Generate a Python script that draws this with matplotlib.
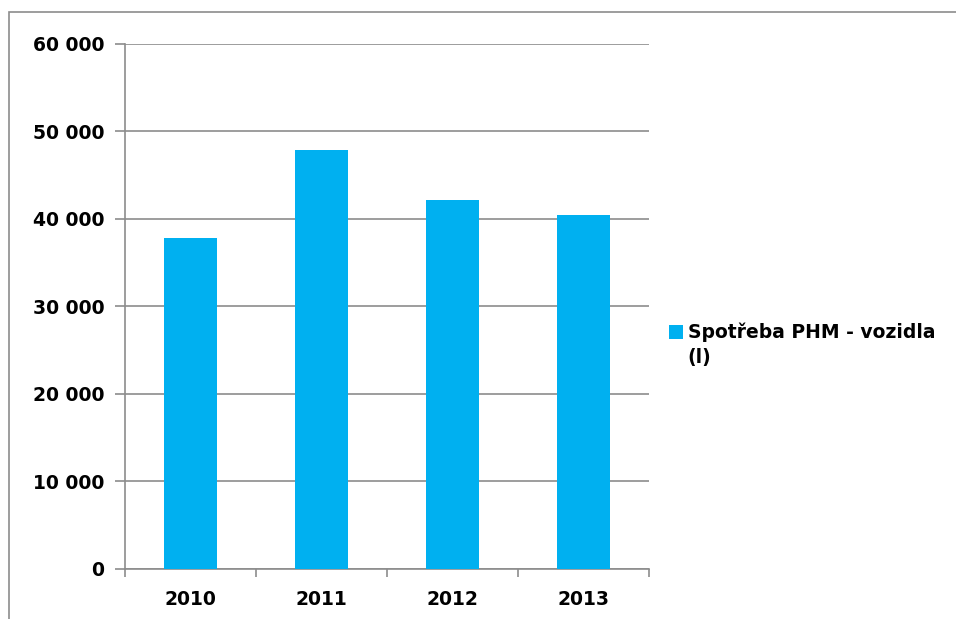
import numpy as np
import matplotlib
matplotlib.use('Agg')
import matplotlib.pyplot as plt
import matplotlib.patches as patch
from matplotlib.ticker import FuncFormatter, FixedLocator

years = ['2010', '2011', '2012', '2013']
spotreba = [37750, 47800, 42150, 40450]
series_name = 'Spotřeba PHM - vozidla'
series_unit = '(l)'

bar_col = '#00B0F0'
grid_col = '#8C8C8C'

plt.rcParams['font.family'] = ['DejaVu Sans']
plt.rcParams['font.weight'] = 'bold'

fig = plt.figure(figsize=(9.56, 6.19), dpi=100)
W, H = 956.0, 619.0

# outer chart border (cut off at right/bottom like the reference)
fig.patches.append(patch.Rectangle((9 / W, -0.05), 1.2, (619 - 12) / H + 0.05,
                                   transform=fig.transFigure, fill=False,
                                   edgecolor='#8C8C8C', linewidth=1.2))

ax = fig.add_axes([125 / W, (619 - 569) / H, 524 / W, (569 - 43.5) / H])

x = np.arange(len(years))
bars = ax.bar(x, spotreba, width=0.4, color=bar_col, label=series_name, zorder=3)

ax.set_xlim(-0.5, len(years) - 0.5)
ax.set_ylim(0, 60000)
ax.set_yticks(np.arange(0, 60001, 10000))
ax.yaxis.set_major_formatter(FuncFormatter(lambda v, p: '{:,}'.format(int(v)).replace(',', ' ')))
ax.set_xticks(x)
ax.set_xticklabels(years)
ax.xaxis.set_minor_locator(FixedLocator(np.arange(-0.5, len(years), 1.0)))

ax.grid(axis='y', color=grid_col, linewidth=1.2, zorder=0)
for s in ['top', 'right']:
    ax.spines[s].set_visible(False)
for s in ['left', 'bottom']:
    ax.spines[s].set_color(grid_col)
    ax.spines[s].set_linewidth(1.2)

ax.tick_params(axis='y', length=7, width=1.2, color=grid_col, labelsize=13.5, pad=8)
ax.tick_params(axis='x', which='major', length=0, labelsize=13.5, pad=15)
ax.tick_params(axis='x', which='minor', length=6, width=1.2, color=grid_col)

leg = fig.legend(handles=[bars], labels=[series_name], loc='upper left',
                 bbox_to_anchor=(669 / W, 1 - 323 / H), frameon=False,
                 fontsize=13.5, handlelength=0.75, handleheight=0.75,
                 handletextpad=0.25, borderpad=0, borderaxespad=0)

# second line of the legend label, under the first one
fig.canvas.draw()
bb = leg.get_texts()[0].get_window_extent()
fig.text(bb.x0 / W, (bb.y0 - 24) / H, series_unit, fontsize=13.5,
         fontweight='bold', ha='left', va='bottom')

fig.savefig('out.png', dpi=100)
